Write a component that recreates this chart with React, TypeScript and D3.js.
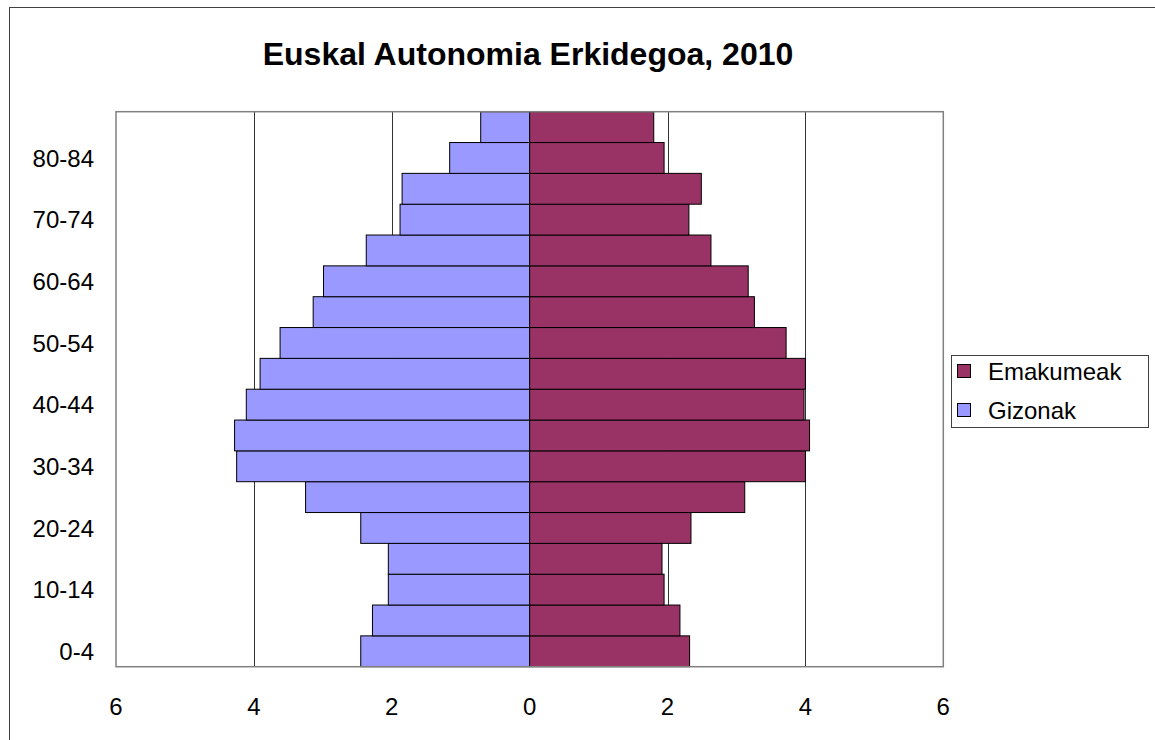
import React from "react";
import * as d3 from "d3";

const ages = [
  "0-4", "5-9", "10-14", "15-19", "20-24", "25-29", "30-34", "35-39", "40-44",
  "45-49", "50-54", "55-59", "60-64", "65-69", "70-74", "75-79", "80-84", "85+",
];
// Gizonak (men), shown to the left
const gizonak = [
  2.45, 2.28, 2.05, 2.05, 2.45, 3.25, 4.25, 4.28, 4.11,
  3.91, 3.62, 3.14, 2.99, 2.37, 1.88, 1.85, 1.16, 0.71,
];
// Emakumeak (women), shown to the right
const emakumeak = [
  2.32, 2.18, 1.95, 1.92, 2.34, 3.12, 4.0, 4.06, 3.98,
  4.0, 3.72, 3.26, 3.17, 2.63, 2.31, 2.49, 1.95, 1.8,
];
const xTicks = [-6, -4, -2, 0, 2, 4, 6];
const legendItems = [
  { label: "Emakumeak", color: "#993366" },
  { label: "Gizonak", color: "#9999FF" },
];

const W = 1155;
const H = 740;
const font = "Arial, 'Liberation Sans', sans-serif";

export default function App() {
  const left = 116;
  const right = 943.3;
  const top = 111.7;
  const bottom = 666.7;

  const x = d3.scaleLinear().domain([-6, 6]).range([left, right]);
  const y = d3.scaleBand<string>().domain(ages).range([bottom, top]).padding(0);

  return (
    <svg
      width={W}
      height={H}
      style={{ position: "absolute", left: 0, top: 0, background: "#fff" }}
      fontFamily={font}
    >
      <rect x={9.5} y={7.5} width={1160} height={760} fill="#fff" stroke="#404040" />
      <text x={528} y={65} textAnchor="middle" fontSize={32} fontWeight="bold">
        Euskal Autonomia Erkidegoa, 2010
      </text>

      <rect x={left} y={top} width={right - left} height={bottom - top} fill="#fff" />
      {/* gridlines */}
      {xTicks
        .filter((t) => t !== 0 && Math.abs(t) !== 6)
        .map((t) => (
          <line key={t} x1={Math.round(x(t)) + 0.5} x2={Math.round(x(t)) + 0.5} y1={top} y2={bottom} stroke="#333" />
        ))}

      {ages.map((a, i) => (
        <rect
          key={"g" + a}
          x={x(-gizonak[i])}
          y={y(a)}
          width={x(0) - x(-gizonak[i])}
          height={y.bandwidth()}
          fill="#9999FF"
          stroke="#000"
          strokeWidth={1}
        />
      ))}
      {ages.map((a, i) => (
        <rect
          key={"e" + a}
          x={x(0)}
          y={y(a)}
          width={x(emakumeak[i]) - x(0)}
          height={y.bandwidth()}
          fill="#993366"
          stroke="#000"
          strokeWidth={1}
        />
      ))}

      <rect x={left} y={top} width={right - left} height={bottom - top} fill="none" stroke="#808080" strokeWidth={1.5} />

      {/* y labels */}
      {ages.map((a, i) =>
        i % 2 === 0 ? (
          <text key={a} x={94} y={(y(a) as number) + y.bandwidth() / 2} dy="0.36em" textAnchor="end" fontSize={24}>
            {a}
          </text>
        ) : null
      )}
      {/* x labels */}
      {xTicks.map((t) => (
        <text key={t} x={x(t)} y={706} dy="0.36em" textAnchor="middle" fontSize={24}>
          {Math.abs(t)}
        </text>
      ))}

      {/* legend */}
      <rect x={951.5} y={355.5} width={197} height={72} fill="#fff" stroke="#404040" />
      {legendItems.map((d, i) => (
        <g key={d.label} transform={`translate(957, ${364 + i * 39})`}>
          <rect x={0.5} y={0.5} width={13} height={13} fill={d.color} stroke="#000" />
          <text x={31} y={7} dy="0.36em" fontSize={24}>
            {d.label}
          </text>
        </g>
      ))}
    </svg>
  );
}
